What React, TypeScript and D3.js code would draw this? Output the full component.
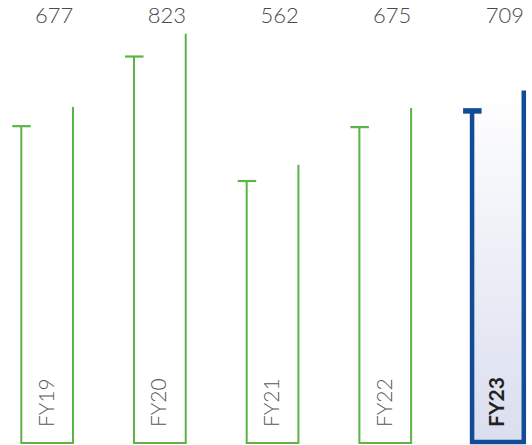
import React from "react";
import * as d3 from "d3";

const categories = ["FY19", "FY20", "FY21", "FY22", "FY23"];
const values = [677, 823, 562, 675, 709];
const rightStemValues = [717, 871, 596, 715, 752];
const highlight = "FY23";

const W = 532;
const H = 445;
const GREEN = "#5ab446";
const NAVY = "#124c98";

export default function App() {
  const x = d3
    .scaleBand<string>()
    .domain(categories)
    .range([21.3, 523.8])
    .paddingInner(0.541)
    .paddingOuter(0);
  const y = d3.scaleLinear().domain([12.8, 900]).range([443, 19.8]);
  const bw = x.bandwidth();

  return (
    <svg
      width={W}
      height={H}
      style={{ position: "absolute", left: 0, top: 0, display: "block" }}
      fontFamily="Lato, 'Open Sans', sans-serif"
    >
      <defs>
        <linearGradient id="hlGrad" x1="0" y1="0" x2="0" y2="1">
          <stop offset="0%" stopColor="#ffffff" />
          <stop offset="100%" stopColor="#dadeee" />
        </linearGradient>
      </defs>
      {categories.map((c, i) => {
        const hl = c === highlight;
        const left = x(c)!;
        const right = left + bw;
        const capY = y(values[i]);
        const topR = y(rightStemValues[i]);
        const bottom = hl ? 442 : 443;
        const sw = hl ? 4.5 : 2;
        const color = hl ? NAVY : GREEN;
        const cx = left + bw / 2;
        return (
          <g key={c}>
            {hl && (
              <rect
                x={left}
                y={topR}
                width={bw}
                height={bottom - topR}
                fill="url(#hlGrad)"
              />
            )}
            <path
              d={`M${left},${capY} L${left},${bottom} L${right},${bottom} L${right},${topR}`}
              fill="none"
              stroke={color}
              strokeWidth={sw}
              strokeLinejoin="miter"
              strokeLinecap="butt"
            />
            <line
              x1={left - 9}
              x2={left + 9.5}
              y1={capY}
              y2={capY}
              stroke={color}
              strokeWidth={hl ? 5.5 : 2.2}
            />
            <text
              x={cx + 7}
              y={23}
              textAnchor="middle"
              fontSize={22}
              fontWeight={300}
              fill="#4a4a4a"
            >
              {values[i]}
            </text>
            <text
              transform={`translate(${cx + 6.5},427) rotate(-90)`}
              textAnchor="start"
              fontSize={21}
              fontWeight={hl ? 700 : 300}
              fill={hl ? "#222222" : "#555555"}
            >
              {c}
            </text>
          </g>
        );
      })}
    </svg>
  );
}
